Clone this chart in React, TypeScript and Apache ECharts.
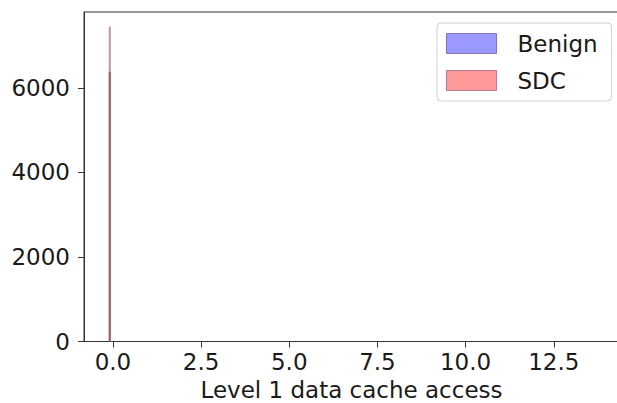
import React, { useEffect, useRef } from "react";
import * as echarts from "echarts";

const seriesNames = ["Benign", "SDC"];
const binCenters = [-0.09];
const benignCounts = [6380];
const sdcCounts = [7450];
const xTicks = [0, 2.5, 5, 7.5, 10, 12.5];
const yTicks = [0, 2000, 4000, 6000];

const FONT = "DejaVu Sans";

export default function App() {
  const ref = useRef<HTMLDivElement>(null);
  useEffect(() => {
    if (!ref.current) return;
    const chart = echarts.init(ref.current, undefined, { renderer: "svg" });
    chart.setOption({
      animation: false,
      backgroundColor: "#ffffff",
      textStyle: { fontFamily: FONT },
      grid: {
        left: 84,
        top: 12,
        width: 535,
        height: 329.5,
        outerBoundsMode: "none",
        containLabel: false,
        show: true,
        borderColor: "#333333",
        borderWidth: 1,
        backgroundColor: "transparent",
      },
      legend: {
        left: 437,
        top: 23,
        orient: "vertical",
        padding: [9, 14, 9, 9],
        itemGap: 14,
        itemWidth: 50,
        itemHeight: 20,
        backgroundColor: "rgba(255,255,255,0.8)",
        borderColor: "#d0d0d0",
        borderWidth: 1,
        borderRadius: 4,
        textStyle: { fontFamily: FONT, fontSize: 23, color: "#1a1a1a", padding: [0, 0, 0, 16] },
        data: [
          {
            name: seriesNames[0],
            icon: "rect",
            itemStyle: { color: "#9999ff", borderColor: "#8a6fb8", borderWidth: 1 },
          },
          {
            name: seriesNames[1],
            icon: "rect",
            itemStyle: { color: "#ff9999", borderColor: "#b87a99", borderWidth: 1 },
          },
        ],
      },
      xAxis: {
        type: "value",
        min: -0.82,
        max: 14.35,
        name: "Level 1 data cache access",
        nameLocation: "middle",
        nameGap: 35,
        nameTextStyle: { fontFamily: FONT, fontSize: 23, color: "#1a1a1a" },
        axisLine: { show: true, onZero: false, lineStyle: { color: "#333", width: 1 } },
        axisTick: { show: true, length: 6, customValues: xTicks, lineStyle: { color: "#333" } },
        axisLabel: {
          customValues: xTicks,
          fontFamily: FONT,
          fontSize: 23,
          color: "#1a1a1a",
          margin: 9,
          formatter: (v: number) => v.toFixed(1),
        },
        splitLine: { show: false },
      },
      yAxis: {
        type: "value",
        min: 0,
        max: 7792,
        axisLine: { show: true, onZero: false, lineStyle: { color: "#333", width: 1 } },
        axisTick: { show: true, length: 6, customValues: yTicks, lineStyle: { color: "#333" } },
        axisLabel: {
          customValues: yTicks,
          fontFamily: FONT,
          fontSize: 23,
          color: "#1a1a1a",
          margin: 14,
          formatter: (v: number) => String(v),
        },
        splitLine: { show: false },
      },
      series: [
        {
          name: seriesNames[1],
          type: "bar",
          barWidth: 2,
          barGap: "-100%",
          itemStyle: { color: "#c69696" },
          data: binCenters.map((x, i) => [x, sdcCounts[i]]),
          z: 2,
        },
        {
          name: seriesNames[0],
          type: "bar",
          barWidth: 2,
          barGap: "-100%",
          itemStyle: { color: "#9e5c5c" },
          data: binCenters.map((x, i) => [x, benignCounts[i]]),
          z: 3,
        },
      ],
    });
    return () => chart.dispose();
  }, []);
  return (
    <div
      ref={ref}
      style={{ position: "absolute", left: 0, top: 0, width: 617, height: 403 }}
    />
  );
}
